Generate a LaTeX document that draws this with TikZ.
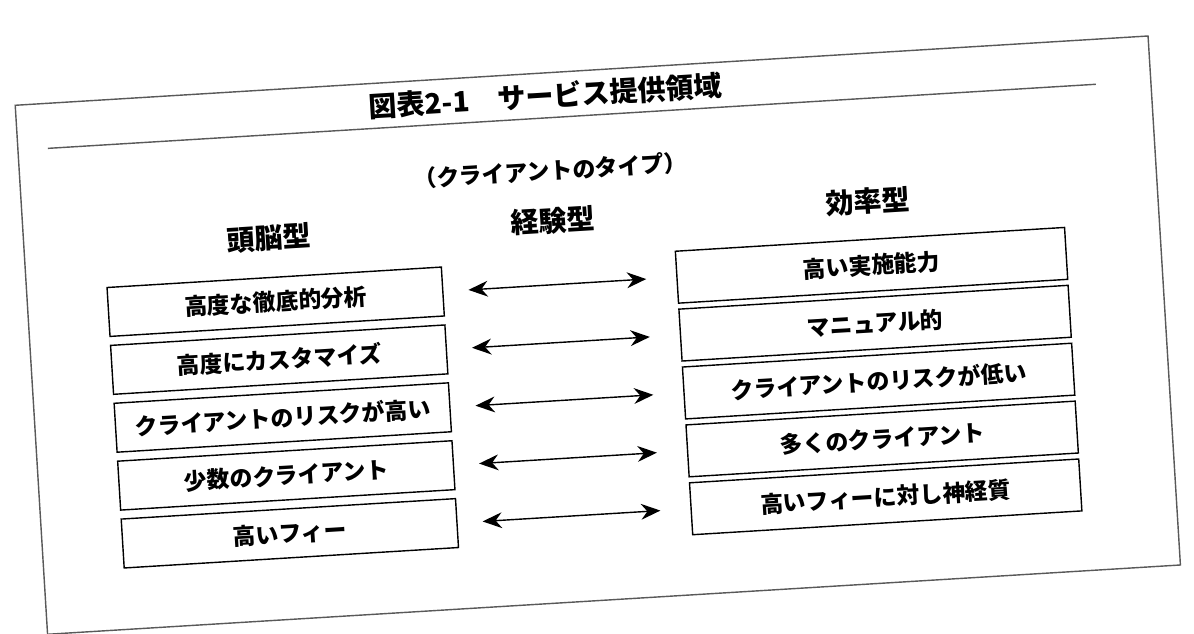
\documentclass[tikz,border=0pt]{standalone}
\usepackage{fontspec}
\setmainfont{Noto Sans CJK JP}
\usetikzlibrary{arrows.meta}
\tikzset{
  lbox/.style={draw, thick, minimum width=6.7cm, minimum height=0.98cm, font=\fontsize{13}{15}\selectfont\bfseries},
  rbox/.style={draw, thick, minimum width=7.8cm, minimum height=1.04cm, font=\fontsize{13}{15}\selectfont\bfseries},
  head/.style={font=\fontsize{16}{18}\selectfont\bfseries},
  dblarrow/.style={thick, {Stealth[length=11pt, width=9pt]}-{Stealth[length=11pt, width=9pt]}, shorten <=0.5cm, shorten >=0.6cm}
}
\begin{document}
\begin{tikzpicture}[x=0.02cm, y=-0.02cm]
  \fill[white] (0,0) rectangle (1194,634);
  \useasboundingbox (0,0) rectangle (1194,634);
  \begin{scope}[rotate around={3.5:(600,330)}, transform shape]
    % Frame and title
    \draw[thick, gray!70!black] (30,70) rectangle (1165,600);
    \node[head] (title) at (560,93) {図表2-1\quad サービス提供領域};
    \draw[thick, gray!70!black] (60,115) -- (1110,115);
    \node[font=\fontsize{13}{15}\selectfont\bfseries] (sub) at (560,168) {（クライアントのタイプ）};

    % Column heads
    \node[head] (hbrain) at (275,218) {頭脳型};
    \node[head] (hexp) at (560,218) {経験型};
    \node[head] (heff) at (875,218) {効率型};

    % Left boxes
    \node[lbox] (L1) at (278,282) {高度な徹底的分析};
    \node[lbox] (L2) at (278,340) {高度にカスタマイズ};
    \node[lbox] (L3) at (278,398) {クライアントのリスクが高い};
    \node[lbox] (L4) at (278,456) {少数のクライアント};
    \node[lbox] (L5) at (278,514) {高いフィー};

    % Right boxes
    \node[rbox] (R1) at (875,282) {高い実施能力};
    \node[rbox] (R2) at (875,340) {マニュアル的};
    \node[rbox] (R3) at (875,398) {クライアントのリスクが低い};
    \node[rbox] (R4) at (875,456) {多くのクライアント};
    \node[rbox] (R5) at (875,514) {高いフィーに対し神経質};

    % Arrows
    \foreach \i in {1,...,5}
      \draw[dblarrow] (L\i) -- (R\i);
  \end{scope}
\end{tikzpicture}
\end{document}
